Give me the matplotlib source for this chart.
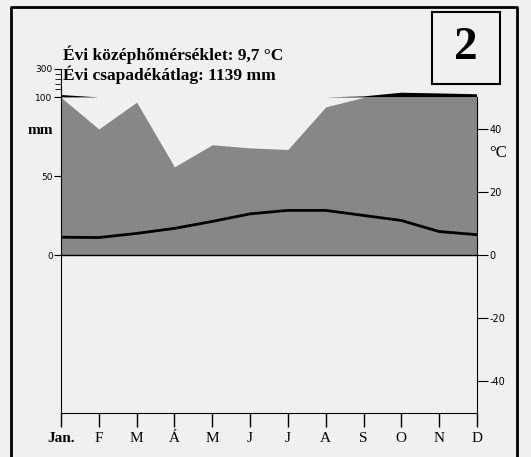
import numpy as np
import matplotlib
matplotlib.use("Agg")
import matplotlib.pyplot as plt
from matplotlib.patches import Rectangle
from matplotlib.lines import Line2D

honapok = ["Jan.", "F", "M", "Á", "M", "J", "J", "A", "S", "O", "N", "D"]
csapadek = [117, 80, 97, 56, 70, 68, 67, 94, 107, 133, 128, 122]  # mm
homerseklet = [5.7, 5.6, 6.9, 8.5, 10.7, 13.1, 14.2, 14.2, 12.6, 11.0, 7.5, 6.5]  # °C

W, H = 531, 457
BG = "#f0f0f0"
SZURKE = "#878787"
SERIF = "Liberation Serif"


def px(x, y):
    # képpont -> ábra koordináta
    return x / W, 1 - y / H


def tomorit(p):
    # 100 mm felett tömörített skála (100..300 mm -> 100..118)
    p = np.asarray(p, dtype=float)
    return np.where(p > 100, 100 + (p - 100) * 0.09, p)


def main():
    fig = plt.figure(figsize=(W / 100, H / 100), dpi=100, facecolor=BG)
    ax = fig.add_axes([61 / W, (H - 413) / H, 416 / W, 344 / H])
    ax.set_facecolor(BG)
    x = np.arange(12)
    p = np.array(csapadek, dtype=float)

    ax.fill_between(x, 0, np.minimum(p, 100), color=SZURKE, lw=0)
    # 100 mm feletti rész feketével, a szomszédos szakaszokkal együtt
    felett = p > 100
    maszk = felett | np.r_[felett[1:], False] | np.r_[False, felett[:-1]]
    ax.fill_between(x, 100, np.maximum(tomorit(p), 100), where=maszk,
                    color="black", lw=0)
    ax.axhline(0, color="black", lw=1)

    ax.set_xlim(0, 11)
    ax.set_ylim(-100, 118)
    ax.spines["top"].set_visible(False)
    ax.spines["right"].set_visible(False)
    ax.set_xticks(x)
    ax.set_xticklabels(honapok, fontfamily=SERIF, fontsize=11)
    ax.get_xticklabels()[0].set_fontweight("bold")
    ax.tick_params(axis="x", direction="out", length=10, width=1, pad=4)

    ax.set_yticks([0, 50, 100, 118])
    ax.set_yticklabels(["0", "50", "100", "300"], fontsize=6.5)
    ax.set_yticks(tomorit([160, 195, 230, 265]), minor=True)
    ax.tick_params(axis="y", which="major", direction="out", length=5, pad=1)
    ax.tick_params(axis="y", which="minor", direction="out", length=4)

    ax2 = ax.twinx()
    ax2.set_ylim(-50, 59)
    ax2.plot(x, homerseklet, color="black", lw=2)
    for s in ["top", "left", "bottom"]:
        ax2.spines[s].set_visible(False)
    ax2.spines["right"].set_bounds(-50, 50)
    ax2.set_yticks([-40, -20, 0, 20, 40])
    ax2.set_yticklabels(["-40", "-20", "0", "20", "40"], fontsize=7)
    ax2.tick_params(axis="y", direction="out", length=8, pad=1)

    fig.text(*px(63, 55), "Évi középhőmérséklet: 9,7 °C", fontfamily=SERIF,
             fontweight="bold", fontsize=12.5, va="center")
    fig.text(*px(63, 75), "Évi csapadékátlag: 1139 mm", fontfamily=SERIF,
             fontweight="bold", fontsize=12.5, va="center")
    fig.text(*px(40, 131), "mm", fontfamily=SERIF, fontweight="bold",
             fontsize=11, ha="center", va="center")
    fig.text(*px(498, 153), "°C", fontfamily=SERIF, fontsize=12,
             ha="center", va="center")

    # szám dobozban
    fig.patches.append(Rectangle(px(432, 84), 68 / W, 72 / H, transform=fig.transFigure,
                                 fill=False, ec="black", lw=1.5))
    fig.text(*px(466, 48), "2", fontfamily=SERIF, fontweight="bold",
             fontsize=34, ha="center", va="center")

    # keret (alul nincs)
    xs = [11 / W, 11 / W, 517 / W, 517 / W]
    ys = [0, 1 - 7 / H, 1 - 7 / H, 0]
    fig.lines.append(Line2D(xs, ys, transform=fig.transFigure, color="black", lw=2))

    fig.savefig("out.png", dpi=100, facecolor=BG)


main()
